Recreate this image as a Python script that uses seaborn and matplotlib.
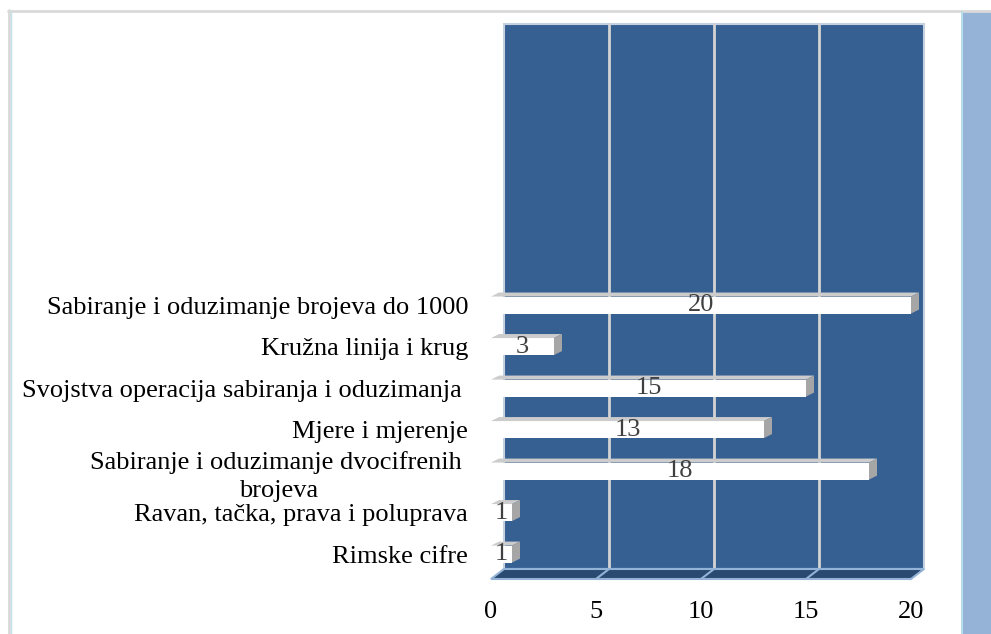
import matplotlib
matplotlib.use('Agg')
import matplotlib.pyplot as plt
import seaborn as sns
import pandas as pd
from matplotlib.patches import Polygon, Rectangle
from matplotlib.lines import Line2D

# podaci sa grafikona
categories = [
    'Sabiranje i oduzimanje brojeva do 1000',
    'Kružna linija i krug',
    'Svojstva operacija sabiranja i oduzimanja ',
    'Mjere i mjerenje',
    'Sabiranje i oduzimanje dvocifrenih \nbrojeva',
    'Ravan, tačka, prava i poluprava',
    'Rimske cifre',
]
values = [20, 3, 15, 13, 18, 1, 1]
x_ticks = [0, 5, 10, 15, 20]

sns.set_style('white')
plt.rcParams['font.family'] = ['Liberation Serif', 'DejaVu Serif']

W, H = 991, 634
fig = plt.figure(figsize=(W / 100, H / 100), dpi=100)
# osa: prednja ravan 3D grafikona (u pikselima)
ax_l, ax_r, ax_t, ax_b = 491, 911, 34, 579
ax = fig.add_axes([ax_l / W, (H - ax_b) / H, (ax_r - ax_l) / W, (ax_b - ax_t) / H])
ax.set_facecolor('none')

df = pd.DataFrame({'tema': categories, 'broj': values})
sns.barplot(data=df, x='broj', y='tema', orient='h', color='white', saturation=1,
            width=0.41, linewidth=0, ax=ax, zorder=3)

xmin, xmax = 0, 20
ybot, ytop = 6.6, -6.53
ax.set_xlim(xmin, xmax)
ax.set_ylim(ybot, ytop)

sx = (ax_r - ax_l) / (xmax - xmin)   # px po jedinici x
sy = (ax_b - ax_t) / (ybot - ytop)   # px po kategoriji

# 3D stranice stubića
bdx, bdy = 8 / sx, 4 / sy
bars = list(ax.patches)
for p in bars:
    x, y, w, h = p.get_x(), p.get_y(), p.get_width(), p.get_height()
    top = Polygon([(x, y), (x + w, y), (x + w + bdx, y - bdy), (x + bdx, y - bdy)],
                  closed=True, facecolor='#cccccc', edgecolor='none', zorder=3.5, clip_on=False)
    side = Polygon([(x + w, y), (x + w, y + h), (x + w + bdx, y + h - bdy), (x + w + bdx, y - bdy)],
                   closed=True, facecolor='#a6a6a6', edgecolor='none', zorder=3.5, clip_on=False)
    ax.add_patch(top)
    ax.add_patch(side)

# zadnji zid i pod
wdx, wdy = 13 / sx, 10 / sy
wall = Polygon([(xmin + wdx, ybot - wdy), (xmax + wdx, ybot - wdy),
                (xmax + wdx, ytop - wdy), (xmin + wdx, ytop - wdy)],
               closed=True, facecolor='#366092', edgecolor='#c5d1e0', linewidth=1.5,
               zorder=0, clip_on=False)
ax.add_patch(wall)
floor = Polygon([(xmin, ybot), (xmax, ybot), (xmax + wdx, ybot - wdy), (xmin + wdx, ybot - wdy)],
                closed=True, facecolor='#2a4a72', edgecolor='#95b3d7', linewidth=1.5,
                zorder=1, clip_on=False)
ax.add_patch(floor)
for t in x_ticks[1:-1]:
    ax.plot([t + wdx, t + wdx], [ybot - wdy, ytop - wdy], color='#d4d4d4', lw=2,
            zorder=0.5, clip_on=False)
    ax.plot([t, t + wdx], [ybot, ybot - wdy], color='#95b3d7', lw=1.5,
            zorder=1.5, clip_on=False)

# oznake vrijednosti
ax.bar_label(ax.containers[0], label_type='center', fontsize=19, color='#404040', zorder=5)

for s in ax.spines.values():
    s.set_visible(False)
ax.set_xlabel('')
ax.set_ylabel('')
ax.set_xticks(x_ticks)
ax.tick_params(axis='x', length=0, labelsize=19, pad=16, labelcolor='black')
ax.tick_params(axis='y', length=0, labelsize=19, pad=16.5, labelcolor='black')
for lbl in ax.get_yticklabels():
    if '\n' in lbl.get_text():
        lbl.set_multialignment('center')
        lbl.set_linespacing(1.35)

# okvir i desna traka
fig.add_artist(Line2D([8 / W, 1], [1 - 10.5 / H, 1 - 10.5 / H], color='#d9d9d9', lw=2))
fig.add_artist(Line2D([9 / W, 9 / W], [0, 1 - 10 / H], color='#d9d9d9', lw=2))
fig.add_artist(Line2D([10.5 / W, 10.5 / W], [0, 1 - 11 / H], color='#c4e4ea', lw=1))
fig.add_artist(Rectangle((961 / W, 0), 1 - 961 / W, 1 - 12 / H, transform=fig.transFigure,
                         facecolor='#95b3d7', edgecolor='none'))
fig.add_artist(Line2D([961.5 / W, 961.5 / W], [0, 1 - 12 / H], color='#b7dee8', lw=1.5))

fig.savefig('out.png', dpi=100)
